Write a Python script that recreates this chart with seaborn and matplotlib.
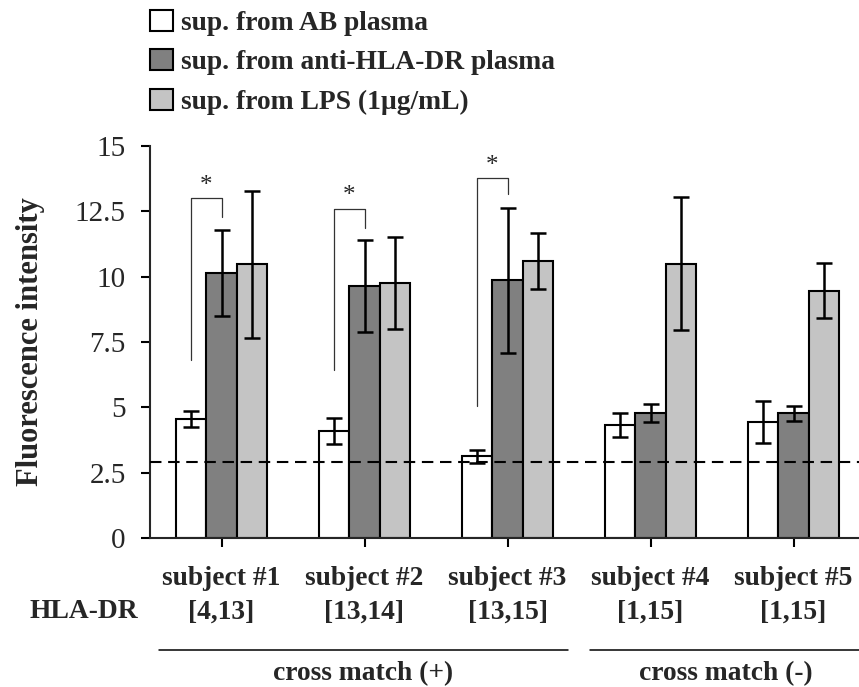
import numpy as np
import pandas as pd
import matplotlib
matplotlib.use("Agg")
import matplotlib.pyplot as plt
import matplotlib.transforms as mtrans
from matplotlib.patches import Patch
import seaborn as sns

# ---------------- data ----------------
subjects = ["subject #1", "subject #2", "subject #3", "subject #4", "subject #5"]
hla_types = ["[4,13]", "[13,14]", "[13,15]", "[1,15]", "[1,15]"]
conditions = ["sup. from AB plasma", "sup. from anti-HLA-DR plasma", "sup. from LPS (1\u00b5g/mL)"]
ab_mean = [4.55, 4.10, 3.12, 4.33, 4.44]
ab_err = [0.31, 0.50, 0.25, 0.45, 0.81]
anti_mean = [10.14, 9.65, 9.86, 4.78, 4.78]
anti_err = [1.63, 1.75, 2.78, 0.33, 0.29]
lps_mean = [10.47, 9.75, 10.60, 10.50, 9.47]
lps_err = [2.80, 1.77, 1.09, 2.55, 1.05]
threshold = 2.9
y_ticks = [0, 2.5, 5, 7.5, 10, 12.5, 15]
y_tick_labels = ["0", "2.5", "5", "7.5", "10", "12.5", "15"]
# significance brackets: subject index, left-leg bottom, top, right-leg bottom
sig_subject = [0, 1, 2]
sig_left_bottom = [6.83, 6.44, 5.04]
sig_top = [13.0, 12.6, 13.78]
sig_right_bottom = [12.27, 11.85, 13.18]
groups = ["cross match (+)", "cross match (-)"]
group_spans = [(-0.44, 2.42), (2.575, 4.48)]

colors = ["#ffffff", "#808080", "#c4c4c4"]

means = [ab_mean, anti_mean, lps_mean]
errs = [ab_err, anti_err, lps_err]
rows = []
for c, m, e in zip(conditions, means, errs):
    for s, v, ev in zip(subjects, m, e):
        rows.append({"subject": s, "condition": c, "value": v, "err": ev})
df = pd.DataFrame(rows)

# ---------------- style ----------------
sns.set_style("ticks")
plt.rcParams["font.family"] = ["Liberation Serif", "DejaVu Serif"]
plt.rcParams["axes.linewidth"] = 1.5

FS = 19.8
W, H = 859, 687
fig = plt.figure(figsize=(W / 100, H / 100), dpi=100)
ax = fig.add_axes([150 / W, (H - 538) / H, 715 / W, 392 / H])

sns.barplot(data=df, x="subject", y="value", hue="condition", order=subjects,
            hue_order=conditions, palette=colors, width=0.636, errorbar=None,
            edgecolor="black", linewidth=1.5, saturation=1, legend=False, ax=ax)

# error bars
for cont, e in zip(ax.containers, errs):
    xs = [p.get_x() + p.get_width() / 2 for p in cont]
    ys = [p.get_height() for p in cont]
    ax.errorbar(xs, ys, yerr=e, fmt="none", ecolor="black", elinewidth=1.8,
                capsize=5.5, capthick=1.8, zorder=5)

# threshold line
ax.axhline(threshold, color="black", lw=1.5, ls=(0, (5.5, 3.2)), zorder=6)

# significance brackets
white_c = ax.containers[0]
dark_c = ax.containers[1]
for i, lb, tp, rb in zip(sig_subject, sig_left_bottom, sig_top, sig_right_bottom):
    xl = white_c[i].get_x() + white_c[i].get_width() / 2
    xr = dark_c[i].get_x() + dark_c[i].get_width() / 2
    ax.plot([xl, xl, xr, xr], [lb, tp, tp, rb], color="#333333", lw=0.9, zorder=4)
    ax.text((xl + xr) / 2, tp + 0.05, "*", ha="center", va="bottom", fontsize=18)

ax.set_xlim(-0.5, 4.5)
ax.set_ylim(0, 15)
ax.set_yticks(y_ticks)
ax.set_yticklabels(y_tick_labels, fontsize=21)
ax.set_xticks(range(len(subjects)))
ax.set_xticklabels(subjects, fontsize=FS, fontweight="bold")
ax.tick_params(axis="both", direction="out", length=6.5, width=1.5, color="black")
ax.tick_params(axis="y", pad=11)
ax.tick_params(axis="x", pad=13.5)
ax.set_xlabel("")
ax.set_ylabel("Fluorescence intensity", fontsize=22, fontweight="bold")
ax.yaxis.set_label_coords(-0.147, 0.5)
sns.despine(ax=ax)

# HLA row and group annotations
blend = mtrans.blended_transform_factory(ax.transData, fig.transFigure)
fig.text(84 / W, 1 - 612 / H, "HLA-DR", ha="center", va="center", fontsize=FS, fontweight="bold")
for i, h in enumerate(hla_types):
    ax.text(i, 1 - 612 / H, h, transform=blend, ha="center", va="center", fontsize=FS, fontweight="bold")
for g, (x0, x1) in zip(groups, group_spans):
    ax.plot([x0, x1], [1 - 650 / H, 1 - 650 / H], transform=blend, color="black", lw=1.1, clip_on=False)
    ax.text((x0 + x1) / 2, 1 - 674 / H, g, transform=blend, ha="center", va="center",
            fontsize=FS, fontweight="bold")

# legend
handles = [Patch(facecolor=c, edgecolor="black", linewidth=1.5) for c in colors]
fig.legend(handles, conditions, loc="upper left", bbox_to_anchor=(150 / W, 1 - 10 / H),
           frameon=False, prop={"weight": "bold", "size": FS}, handlelength=0.84,
           handleheight=0.8, handletextpad=0.3, labelspacing=0.48, borderpad=0,
           borderaxespad=0)

fig.savefig("out.png", dpi=100)
